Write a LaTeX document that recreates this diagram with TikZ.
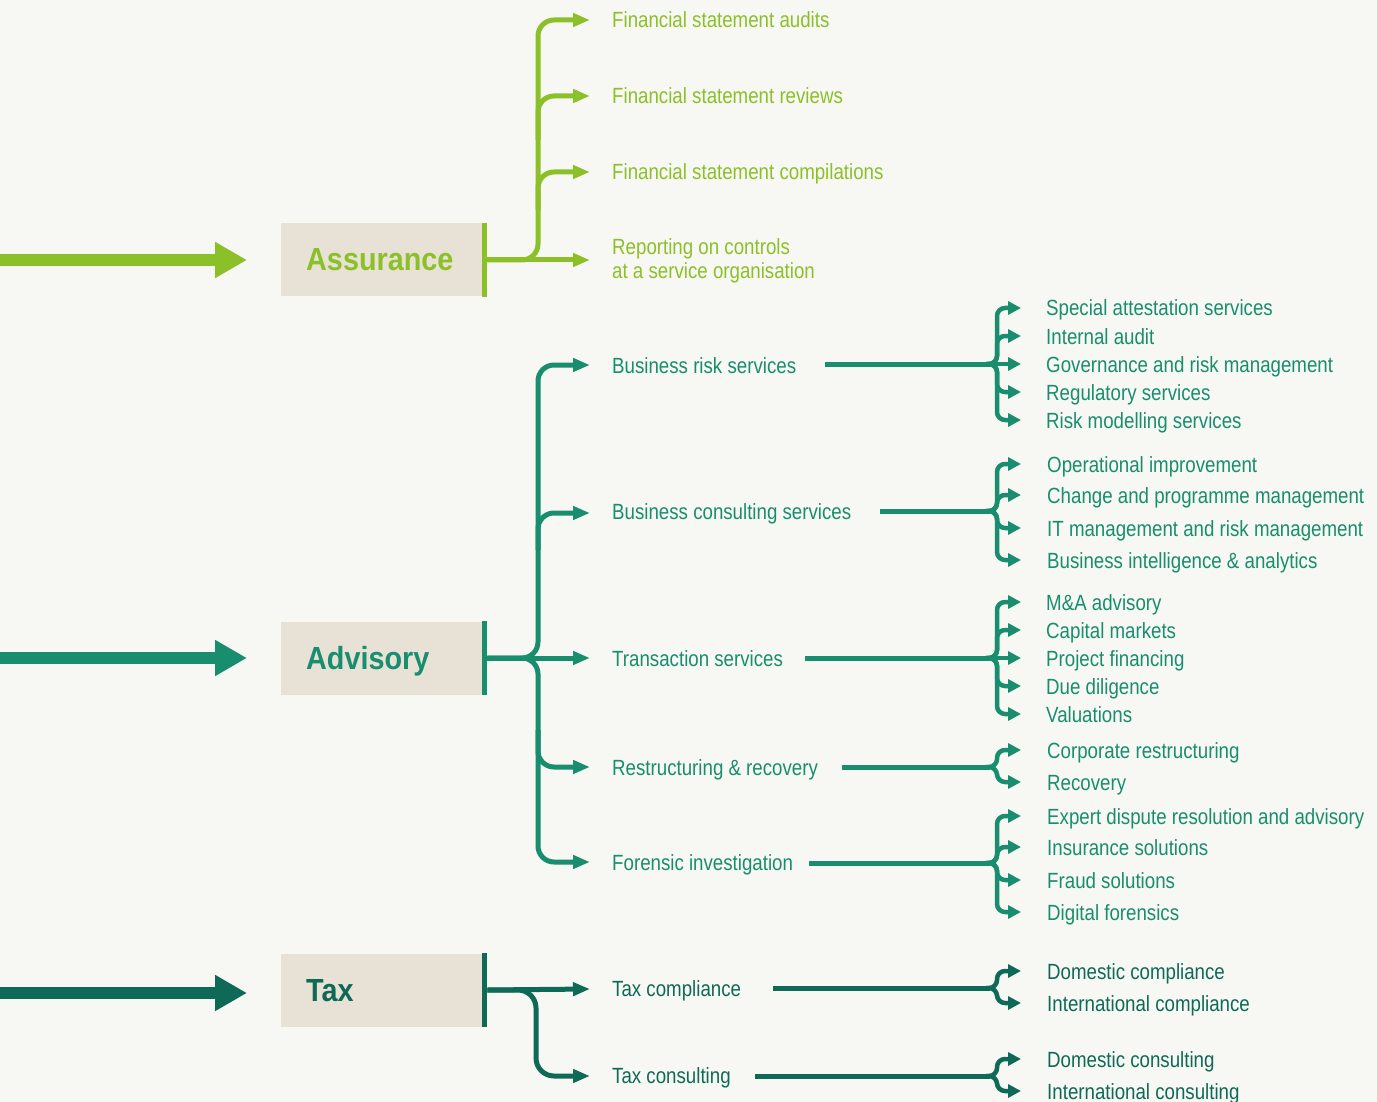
\documentclass[tikz,border=0pt]{standalone}
\usepackage{fontspec}
\setmainfont{Liberation Sans}[FakeStretch=0.85]
\newfontfamily\titlefont{Liberation Sans}[FakeStretch=0.9]
\usetikzlibrary{arrows.meta}
\definecolor{asc}{RGB}{140,192,40}
\definecolor{adc}{RGB}{24,142,110}
\definecolor{txc}{RGB}{14,106,86}
\definecolor{boxc}{RGB}{232,226,214}
\definecolor{bgc}{RGB}{247,247,244}
\newcommand\mkfork[4]{%
  \draw[lmain,#1] (#2) -- (990,#3);
  \foreach \yy in {#4}{%
    \ifnum\yy=#3\relax
      \draw[ltwo,#1] (986,#3) -- (1021,#3);
    \else
      \draw[ltwo,#1] (986,#3) -- (997,#3) -- (997,\yy) -- (1021,\yy);
    \fi}%
}
\begin{document}
\begin{tikzpicture}[x=1pt,y=-1pt,
  bigarrow/.style={line width=12pt,-{Triangle[length=32pt,width=34pt]}},
  catbox/.style={fill=boxc, anchor=west, minimum width=206pt, minimum height=73pt,
    inner xsep=25pt, inner ysep=0pt, text width=156pt, align=left,
    text height=22pt, text depth=0pt, font=\titlefont\bfseries\fontsize{32}{36}\selectfont},
  lone/.style={line width=5pt, -{Triangle[length=17pt,width=13pt]}, rounded corners=16pt},
  ltwo/.style={line width=4.5pt, -{Triangle[length=13pt,width=13pt]}, rounded corners=8pt},
  lmain/.style={line width=5pt},
  lab/.style={anchor=base west, inner sep=0pt, font=\fontsize{22}{24}\selectfont},
  bar/.style={line width=5pt},
]
\fill[bgc] (0,0) rectangle (1377,1102);
\useasboundingbox (0,0) rectangle (1377,1102);

% ---------- left arrows ----------
\coordinate (inA) at (0,260);
\coordinate (inB) at (0,658);
\coordinate (inC) at (0,993);
\node[catbox, text=asc] (assur) at (281,260) {Assurance};
\node[catbox, text=adc] (adv) at (281,658) {Advisory};
\node[catbox, text=txc] (tax) at (281,990) {Tax};
\draw[bigarrow, asc] (inA) -- (247,260);
\draw[bigarrow, adc] (inB) -- (247,658);
\draw[bigarrow, txc] (inC) -- (247,993);
\draw[bar, asc] ([xshift=-2.5pt]assur.north east) -- ([xshift=-2.5pt]assur.south east);
\draw[bar, adc] ([xshift=-2.5pt]adv.north east) -- ([xshift=-2.5pt]adv.south east);
\draw[bar, txc] ([xshift=-2.5pt]tax.north east) -- ([xshift=-2.5pt]tax.south east);

% ---------- Assurance ----------
\node[lab, text=asc] (a1) at (612,28) {Financial statement audits};
\node[lab, text=asc] (a2) at (612,104) {Financial statement reviews};
\node[lab, text=asc] (a3) at (612,180) {Financial statement compilations};
\node[anchor=west, inner sep=0pt, align=left, text=asc, font=\fontsize{22}{24}\selectfont] (a4) at (612,261) {Reporting on controls\\at a service organisation};
\coordinate (ta1) at (590,20);
\coordinate (ta2) at (590,96);
\coordinate (ta3) at (590,172);
\coordinate (ta4) at (590,260);
\draw[lone, asc] (assur.east) -- (538,260) -- (538,20) -- (ta1);
\draw[lone, asc] (538,140) -- (538,96) -- (ta2);
\draw[lone, asc] (538,210) -- (538,172) -- (ta3);
\draw[lone, asc] (assur.east) -- (ta4);

% ---------- Advisory ----------
\node[lab, text=adc] (b1) at (612,373) {Business risk services};
\node[lab, text=adc] (b2) at (612,519) {Business consulting services};
\node[lab, text=adc] (b3) at (612,666) {Transaction services};
\node[lab, text=adc] (b4) at (612,775) {Restructuring \& recovery};
\node[lab, text=adc] (b5) at (612,870) {Forensic investigation};
\coordinate (tb1) at (590,365);
\coordinate (tb2) at (590,513);
\coordinate (tb3) at (590,658);
\coordinate (tb4) at (590,767);
\coordinate (tb5) at (590,862);
\draw[lone, adc] (adv.east) -- (538,658) -- (538,365) -- (tb1);
\draw[lone, adc] (adv.east) -- (538,658) -- (538,862) -- (tb5);
\draw[lone, adc] (adv.east) -- (tb3);
\draw[lone, adc] (538,550) -- (538,513) -- (tb2);
\draw[lone, adc] (538,730) -- (538,767) -- (tb4);

% ---------- Tax ----------
\node[lab, text=txc] (c1) at (612,996) {Tax compliance};
\node[lab, text=txc] (c2) at (612,1083) {Tax consulting};
\coordinate (tc1) at (590,989);
\coordinate (tc2) at (590,1076);
\draw[lone, txc] (tax.east) -- (tc1);
\draw[lone, txc, rounded corners=18pt] (tax.east) -- (536,990) -- (536,1076) -- (tc2);

% ---------- level-2 start points ----------
\coordinate (s1) at (825,364);
\coordinate (s2) at (880,511);
\coordinate (s3) at (805,658);
\coordinate (s4) at (842,767);
\coordinate (s5) at (809,863);
\coordinate (s6) at (773,988);
\coordinate (s7) at (755,1076);

\mkfork{adc}{s1}{364}{308,336,364,392,420}
\mkfork{adc}{s2}{511}{464,495,528,560}
\mkfork{adc}{s3}{658}{602,630,658,686,714}
\mkfork{adc}{s4}{767}{750,782}
\mkfork{adc}{s5}{863}{816,847,880,912}
\mkfork{txc}{s6}{988}{971,1003}
\mkfork{txc}{s7}{1076}{1059,1091}

% ---------- level-2 items ----------
\node[lab, text=adc] (d11) at (1046,316) {Special attestation services};
\node[lab, text=adc] (d12) at (1046,344) {Internal audit};
\node[lab, text=adc] (d13) at (1046,372) {Governance and risk management};
\node[lab, text=adc] (d14) at (1046,400) {Regulatory services};
\node[lab, text=adc] (d15) at (1046,428) {Risk modelling services};

\node[lab, text=adc] (d21) at (1047,472) {Operational improvement};
\node[lab, text=adc] (d22) at (1047,503) {Change and programme management};
\node[lab, text=adc] (d23) at (1047,536) {IT management and risk management};
\node[lab, text=adc] (d24) at (1047,568) {Business intelligence \& analytics};

\node[lab, text=adc] (d31) at (1046,610) {M\&A advisory};
\node[lab, text=adc] (d32) at (1046,638) {Capital markets};
\node[lab, text=adc] (d33) at (1046,666) {Project financing};
\node[lab, text=adc] (d34) at (1046,694) {Due diligence};
\node[lab, text=adc] (d35) at (1046,722) {Valuations};

\node[lab, text=adc] (d41) at (1047,758) {Corporate restructuring};
\node[lab, text=adc] (d42) at (1047,790) {Recovery};

\node[lab, text=adc] (d51) at (1047,824) {Expert dispute resolution and advisory};
\node[lab, text=adc] (d52) at (1047,855) {Insurance solutions};
\node[lab, text=adc] (d53) at (1047,888) {Fraud solutions};
\node[lab, text=adc] (d54) at (1047,920) {Digital forensics};

\node[lab, text=txc] (d61) at (1047,979) {Domestic compliance};
\node[lab, text=txc] (d62) at (1047,1011) {International compliance};
\node[lab, text=txc] (d71) at (1047,1067) {Domestic consulting};
\node[lab, text=txc] (d72) at (1047,1099) {International consulting};
\end{tikzpicture}
\end{document}
